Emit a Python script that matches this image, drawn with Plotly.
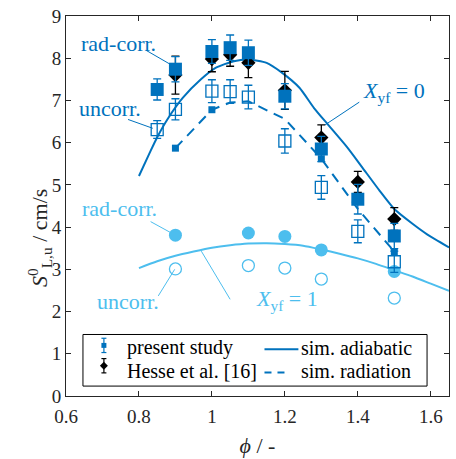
import plotly.graph_objects as go

BLUE = '#0072BD'
LBLUE = '#4DBEEE'
AX = '#262626'
FONT = 'Liberation Serif'

# ---- present study, X_yf = 0 ----
phi_ps = [0.85, 0.9, 1.0, 1.05, 1.1, 1.2, 1.3, 1.4, 1.5]
s_rad = [7.26, 7.74, 8.16, 8.25, 8.13, 7.10, 5.85, 4.66, 3.79]
err_rad = [0.25, 0.30, 0.28, 0.30, 0.30, 0.30, 0.30, 0.35, 0.30]
s_unc = [6.31, 6.79, 7.22, 7.21, 7.08, 6.04, 4.94, 3.90, 3.18]
err_unc = [0.21, 0.25, 0.27, 0.28, 0.28, 0.29, 0.28, 0.27, 0.25]

# ---- Hesse et al. [16] ----
phi_h = [0.9, 1.0, 1.05, 1.1, 1.2, 1.3, 1.4, 1.5]
s_h = [7.60, 7.98, 8.08, 7.89, 7.24, 6.12, 5.07, 4.19]
err_h = [0.45, 0.30, 0.27, 0.35, 0.45, 0.30, 0.25, 0.27]

# ---- present study, X_yf = 1 ----
phi_1 = [0.9, 1.1, 1.2, 1.3, 1.5]
s1_rad = [3.81, 3.86, 3.78, 3.46, 2.95]
s1_unc = [3.01, 3.09, 3.03, 2.77, 2.32]

# ---- simulations ----
phi_ad = [0.80, 0.83, 0.85, 0.88, 0.92, 0.97, 1.01, 1.06, 1.10, 1.15, 1.19,
          1.24, 1.28, 1.32, 1.37, 1.41, 1.46, 1.50, 1.55, 1.59, 1.65]
s_ad = [5.21, 5.77, 6.13, 6.58, 7.06, 7.50, 7.77, 7.93, 7.97, 7.89, 7.67,
        7.30, 6.82, 6.41, 5.90, 5.44, 4.86, 4.43, 4.08, 3.83, 3.52]

phi_radsim = [0.9, 1.0, 1.05, 1.1, 1.2, 1.3, 1.4, 1.5]
s_radsim = [5.87, 6.78, 6.95, 6.98, 6.56, 5.62, 4.43, 3.42]
phi_radsim_pts = [0.9, 1.0, 1.3, 1.5]
s_radsim_pts = [5.87, 6.78, 5.62, 3.42]

phi_ad1 = [0.80, 0.85, 0.90, 0.95, 1.00, 1.05, 1.10, 1.15, 1.20, 1.25,
           1.30, 1.35, 1.40, 1.45, 1.50, 1.55, 1.60, 1.65]
s_ad1 = [3.03, 3.19, 3.32, 3.42, 3.51, 3.57, 3.61, 3.62, 3.60, 3.56,
         3.47, 3.37, 3.26, 3.13, 2.98, 2.83, 2.66, 2.49]

xticks = [0.6, 0.8, 1.0, 1.2, 1.4, 1.6]
xtick_labels = ['0.6', '0.8', '1', '1.2', '1.4', '1.6']
yticks = [0, 1, 2, 3, 4, 5, 6, 7, 8, 9]

legend_labels = ['present study', 'Hesse et al. [16]', 'sim. adiabatic', 'sim. radiation']

fig = go.Figure()

# simulation lines
fig.add_trace(go.Scatter(x=phi_ad, y=s_ad, mode='lines', name=legend_labels[2],
                         line=dict(color=BLUE, width=2, shape='spline', smoothing=0.6)))
fig.add_trace(go.Scatter(x=phi_ad1, y=s_ad1, mode='lines', name='sim. adiabatic, X_yf = 1',
                         line=dict(color=LBLUE, width=2, shape='spline', smoothing=0.6)))
fig.add_trace(go.Scatter(x=phi_radsim, y=s_radsim, mode='lines', name=legend_labels[3],
                         line=dict(color=BLUE, width=2, dash='10px,7px')))
fig.add_trace(go.Scatter(x=phi_radsim_pts, y=s_radsim_pts, mode='markers',
                         marker=dict(symbol='square', size=7, color=BLUE)))

# X_yf = 1 circles
fig.add_trace(go.Scatter(x=phi_1, y=s1_unc, mode='markers',
                         marker=dict(symbol='circle-open', size=12, color=LBLUE,
                                     line=dict(width=1.3, color=LBLUE))))
fig.add_trace(go.Scatter(x=phi_1, y=s1_rad, mode='markers',
                         marker=dict(symbol='circle', size=13, color=LBLUE)))

# uncorrected squares
fig.add_trace(go.Scatter(x=phi_ps, y=s_unc, mode='markers',
                         marker=dict(symbol='square-open', size=12, color=BLUE,
                                     line=dict(width=1.3, color=BLUE)),
                         error_y=dict(type='data', array=err_unc, color=BLUE,
                                      thickness=1.3, width=4)))

# Hesse et al.
fig.add_trace(go.Scatter(x=phi_h, y=s_h, mode='markers', name=legend_labels[1],
                         marker=dict(symbol='diamond', size=11, color='black'),
                         error_y=dict(type='data', array=err_h, color='black',
                                      thickness=1.3, width=4)))

# rad-corrected squares
fig.add_trace(go.Scatter(x=phi_ps, y=s_rad, mode='markers', name=legend_labels[0],
                         marker=dict(symbol='square', size=13, color=BLUE),
                         error_y=dict(type='data', array=err_rad, color=BLUE,
                                      thickness=1.3, width=4)))

# ---------------- legend box (drawn in paper coordinates) ----------------
PL, PT, PW, PH = 66.0, 13.0, 384.0, 383.0   # plot area in pixels


def px(xp):
    return (xp - PL) / PW


def py(yp):
    return (PT + PH - yp) / PH


fig.add_shape(type='rect', xref='paper', yref='paper',
              x0=px(83), x1=px(428), y0=py(386), y1=py(334),
              line=dict(color='black', width=1), fillcolor='white', layer='above')

# legend symbols: small square / diamond with error bar
for cy, col in [(345.0, BLUE), (365.5, 'black')]:
    fig.add_shape(type='line', xref='paper', yref='paper', x0=px(104), x1=px(104),
                  y0=py(cy + 7.2), y1=py(cy - 7.2), line=dict(color=col, width=1.2))
    for yy in (cy - 7.2, cy + 7.2):
        fig.add_shape(type='line', xref='paper', yref='paper', x0=px(101.5), x1=px(106.5),
                      y0=py(yy), y1=py(yy), line=dict(color=col, width=1.2))
fig.add_shape(type='rect', xref='paper', yref='paper', x0=px(101.5), x1=px(106.5),
              y0=py(347.5), y1=py(342.5), line=dict(width=0), fillcolor=BLUE)
fig.add_shape(type='path', xref='paper', yref='paper',
              path=f'M {px(104)} {py(361.5)} L {px(108)} {py(365.5)} L {px(104)} {py(369.5)} '
                   f'L {px(100)} {py(365.5)} Z',
              line=dict(width=0), fillcolor='black')
# line samples
fig.add_shape(type='line', xref='paper', yref='paper', x0=px(265), x1=px(299),
              y0=py(349), y1=py(349), line=dict(color=BLUE, width=2))
fig.add_shape(type='line', xref='paper', yref='paper', x0=px(265), x1=px(286),
              y0=py(372.3), y1=py(372.3), line=dict(color=BLUE, width=2, dash='7px,6px'))

for xl, yl, t in [(125, 347.5, legend_labels[0]), (125, 370.5, legend_labels[1]),
                  (300, 347.5, legend_labels[2]), (300, 370.5, legend_labels[3])]:
    fig.add_annotation(x=px(xl), y=py(yl), xref='paper', yref='paper', text=t,
                       xanchor='left', yanchor='middle', showarrow=False,
                       font=dict(family=FONT, size=20, color='black'))

# ---------------- annotation pointers and labels ----------------
pointers = [
    (0.819, 8.19, 0.885, 7.86, BLUE),
    (0.770, 6.55, 0.838, 6.34, BLUE),
    (1.404, 6.96, 1.310, 6.42, BLUE),
    (0.832, 4.13, 0.889, 3.86, LBLUE),
    (0.853, 2.37, 0.898, 3.00, LBLUE),
    (0.971, 3.43, 1.050, 2.29, LBLUE),
]
for x0, y0, x1, y1, c in pointers:
    fig.add_shape(type='line', x0=x0, y0=y0, x1=x1, y1=y1, xref='x', yref='y',
                  line=dict(color=c, width=1))

labels = [
    (0.745, 8.36, 'rad-corr.', BLUE),
    (0.721, 6.81, 'uncorr.', BLUE),
    (1.498, 7.21, '<i>X</i><sub>yf</sub> = 0', BLUE),
    (0.748, 4.44, 'rad-corr.', LBLUE),
    (0.770, 2.23, 'uncorr.', LBLUE),
    (1.206, 2.28, '<i>X</i><sub>yf</sub> = 1', LBLUE),
]
for x, y, t, c in labels:
    fig.add_annotation(x=x, y=y, text=t, showarrow=False, xref='x', yref='y',
                       font=dict(family=FONT, size=22, color=c))

# y-axis title
fig.add_annotation(x=-0.115, y=0.417, xref='paper', yref='paper',
                   text='<i>S</i><sup>0</sup><sub>L,u</sub> / cm/s', textangle=-90,
                   showarrow=False, font=dict(family=FONT, size=22, color=AX))

axis_common = dict(showline=True, linecolor=AX, linewidth=1, mirror='allticks',
                   ticks='inside', ticklen=5, tickcolor=AX, showgrid=False,
                   zeroline=False, tickfont=dict(family=FONT, size=19, color=AX))

fig.update_layout(
    width=456, height=459,
    margin=dict(l=66, r=6, t=13, b=63),
    plot_bgcolor='white', paper_bgcolor='white',
    font=dict(family=FONT),
    showlegend=False,
    xaxis=dict(range=[0.6, 1.65], tickvals=xticks, ticktext=xtick_labels,
               ticklabelstandoff=3,
               title=dict(text='<i>ϕ</i> / -', font=dict(family=FONT, size=22, color=AX),
                          standoff=11),
               **axis_common),
    yaxis=dict(range=[0, 9], tickvals=yticks, **axis_common),
)

fig.write_html('out.html')
